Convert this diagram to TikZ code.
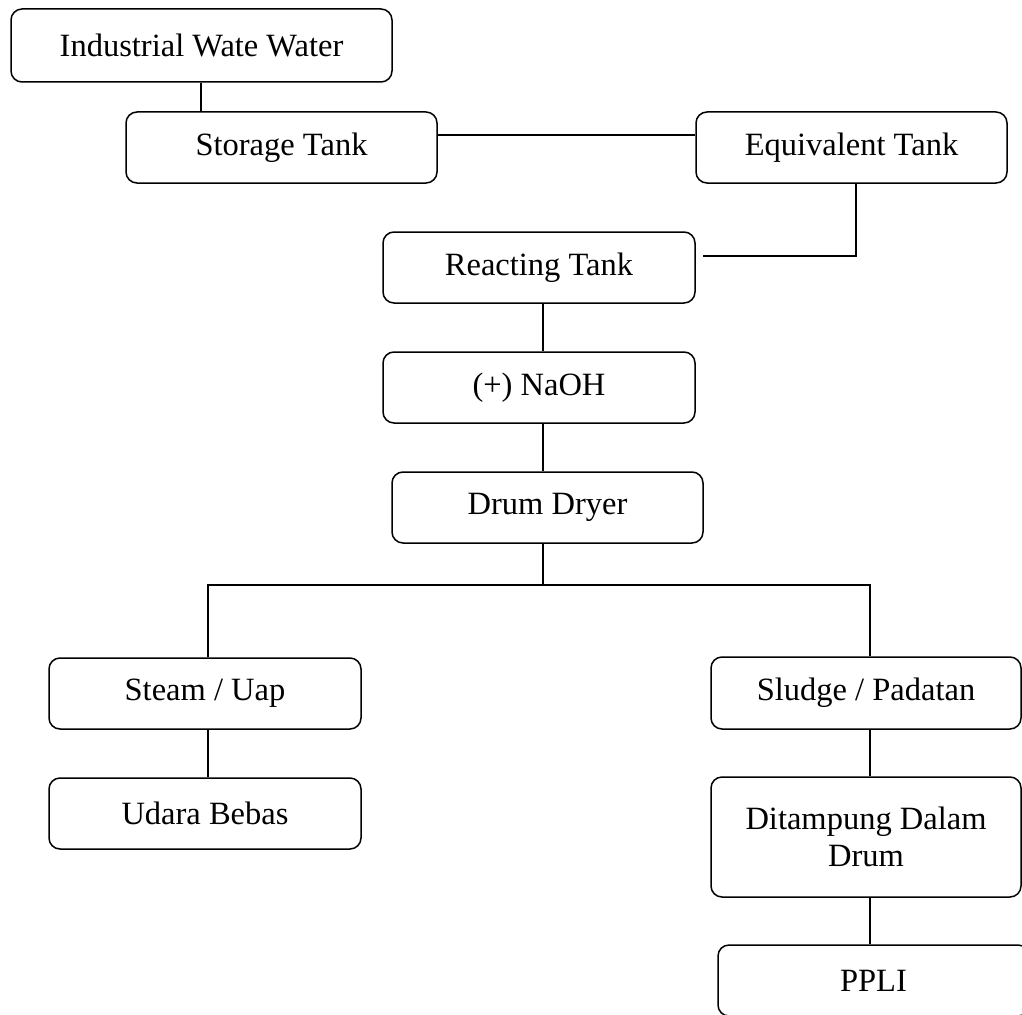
\documentclass[tikz,border=0pt]{standalone}
\usepackage{fontspec}
\setmainfont{Liberation Serif}
\begin{document}
\begin{tikzpicture}[x=1pt,y=-1pt,
  box/.style={draw, line width=1.5pt, rounded corners=11pt, minimum width=311pt, minimum height=71pt, inner sep=0pt, align=center, font=\fontsize{32.5}{37}\selectfont},
  conn/.style={line width=1.5pt}]
\useasboundingbox (0,0) rectangle (1022,1014);
\clip (0,0) rectangle (1022,1014);
\fill[white] (0,0) rectangle (1022,1014);
\node[box, minimum width=381pt, minimum height=73pt] (ind) at (201.5,45.5) {Industrial Wate Water};
\node[box] (sto) at (281.5,147.5) {Storage Tank};
\node[box] (equ) at (851.5,147.5) {Equivalent Tank};
\node[box, minimum width=312pt] (rea) at (539,267.5) {Reacting Tank};
\node[box, minimum width=312pt] (nao) at (539,387.5) {(+) NaOH};
\node[box] (dru) at (547.5,507.5) {Drum Dryer};
\node[box, minimum width=312pt] (ste) at (205,693.5) {Steam / Uap};
\node[box, minimum width=312pt] (udb) at (205,813.5) {Udara Bebas};
\node[box, minimum width=310pt, minimum height=72pt] (slu) at (866,693) {Sludge / Padatan};
\node[box, minimum width=310pt, minimum height=120pt] (dit) at (866,837) {Ditampung Dalam\\Drum};
\node[box] (ppl) at (873.5,980.5) {PPLI};
% connectors
\coordinate (a) at (201,0);
\draw[conn] (ind.south -| a) -- (sto.north -| a);
\coordinate (b) at (0,135);
\draw[conn] (sto.east |- b) -- (equ.west |- b);
\coordinate (c) at (856,0);
\coordinate (rtip) at (703,256);
\draw[conn] (equ.south -| c) |- (rtip);
\coordinate (split) at (543,585);
\draw[conn] (rea.south -| split) -- (nao.north -| split);
\draw[conn] (nao.south -| split) -- (dru.north -| split);
\draw[conn] (dru.south -| split) -- (split);
\coordinate (L) at (208,585);
\coordinate (R) at (870,585);
\draw[conn] (ste.north -| L) -- (L) -- (R) -- (slu.north -| R);
\draw[conn] (ste.south -| L) -- (udb.north -| L);
\draw[conn] (slu.south -| R) -- (dit.north -| R);
\draw[conn] (dit.south -| R) -- (ppl.north -| R);
\end{tikzpicture}
\end{document}
